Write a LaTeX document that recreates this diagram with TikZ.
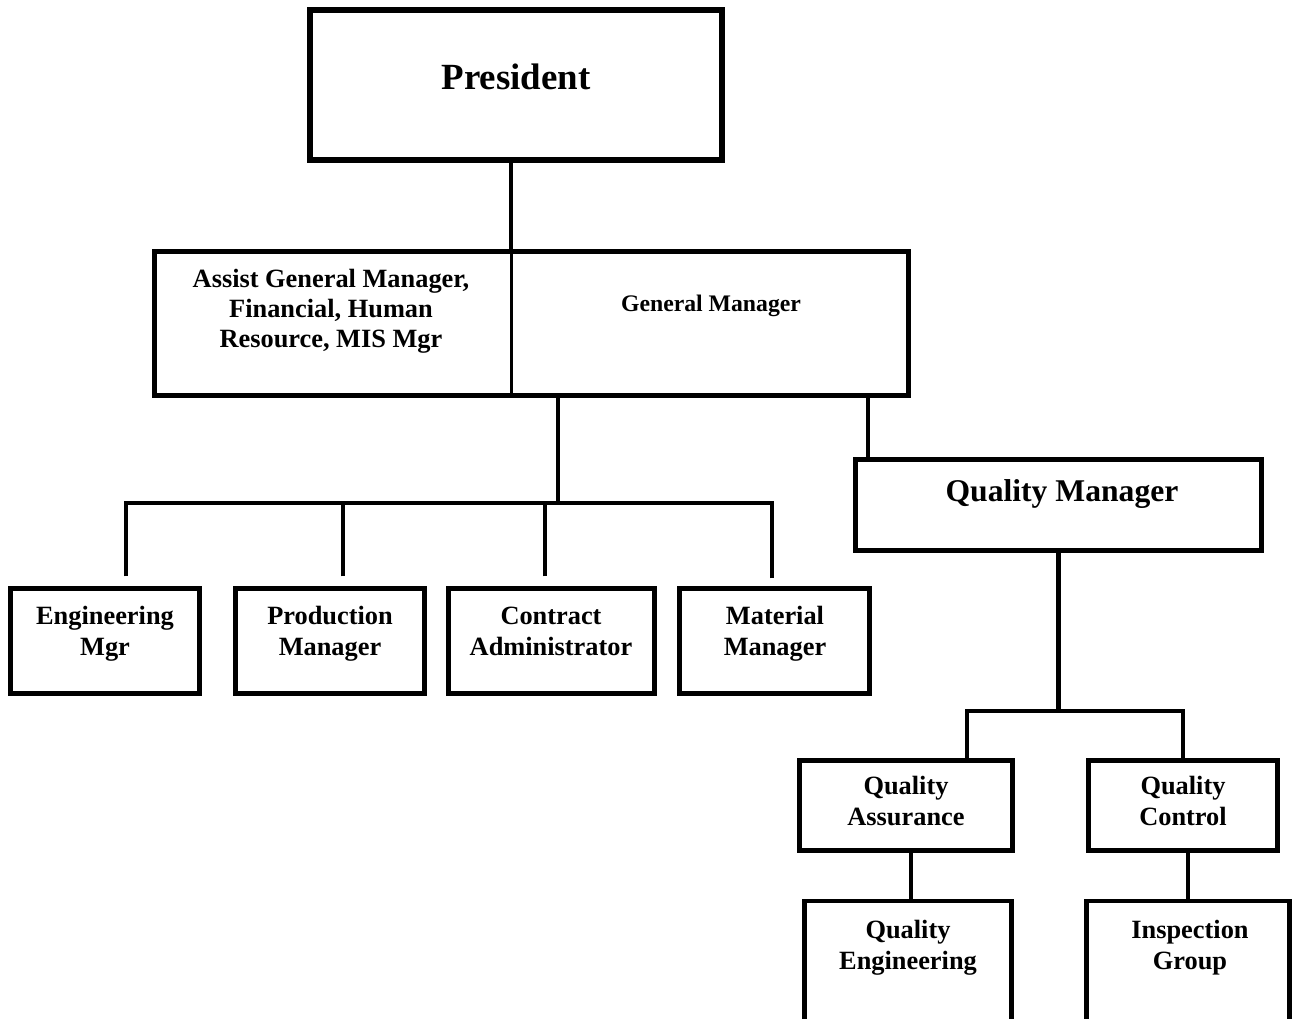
\documentclass[tikz,border=0pt]{standalone}
\usepackage{fontspec}
\setmainfont{Liberation Serif}
\tikzset{
  base/.style = {draw, line width=0.9mm, inner sep=0pt},
  boxsize/.style 2 args = {minimum width=#1*0.2mm, minimum height=#2*0.2mm},
}

\begin{document}
\begin{tikzpicture}[x=0.2mm, y=0.2mm,
            box/.style  = {base, rectangle},
            txt/.style  = {align=center, font=\bfseries\fontsize{15}{17.6}\selectfont},
            link/.style = {line width=0.9mm},
        ]
        \clip (0,0) rectangle (1308,-1019);

        % boxes
        \node[box, line width=1.2mm, boxsize={412}{150}] (pres) at (516,-85) {};
        \node[box, boxsize={754}{144}] (mgmt) at (531.5,-323.5) {};
        \node[box, boxsize={189}{105}] (eng)  at (105,-641) {};
        \node[box, boxsize={189}{105}] (prod) at (330,-641) {};
        \node[box, boxsize={206}{105}] (cont) at (551.5,-641) {};
        \node[box, boxsize={190}{105}] (mat)  at (774.5,-641) {};
        \node[box, boxsize={406}{91}]  (qm)   at (1058.5,-505) {};
        \node[box, boxsize={213}{90}]  (qa)   at (906,-805.5) {};
        \node[box, boxsize={189}{90}]  (qc)   at (1183,-805.5) {};
        \node[box, boxsize={207}{160}] (qe)   at (908,-981) {};
        \node[box, boxsize={203}{160}] (ig)   at (1188,-981) {};

        % texts
        \node[txt, font=\bfseries\fontsize{21}{25}\selectfont] (prestxt) at (516,-77) {President};
        \node[txt, font=\bfseries\fontsize{15}{17}\selectfont] (assttxt) at (331,-311)
            {Assist General Manager,\\Financial, Human\\Resource, MIS Mgr};
        \node[txt, font=\bfseries\fontsize{13.5}{16}\selectfont] (gmtxt) at (711,-306) {General Manager};
        \node[txt] (engtxt)  at (105,-634) {Engineering\\Mgr};
        \node[txt] (prodtxt) at (330,-634) {Production\\Manager};
        \node[txt] (conttxt) at (551,-631) {Contract\\Administrator};
        \node[txt] (mattxt)  at (775,-634) {Material\\Manager};
        \node[txt, font=\bfseries\fontsize{18}{21}\selectfont] (qmtxt) at (1062,-494) {Quality Manager};
        \node[txt] (qatxt) at (906,-801)  {Quality\\Assurance};
        \node[txt] (qctxt) at (1183,-801) {Quality\\Control};
        \node[txt] (qetxt) at (908,-948)  {Quality\\Engineering};
        \node[txt] (igtxt) at (1190,-948) {Inspection\\Group};

        % links
        \coordinate (split) at (511,-249);
        \coordinate (hub)   at (558,-503);
        \coordinate (qhub)  at (1058.5,-711);

        \draw[link] (split |- pres.south) -- (split);
        \draw[line width=0.6mm] (split) -- (split |- mgmt.south);
        \draw[link] (mgmt.south -| hub) -- (hub);
        \draw[link] ([shift={(21,10)}]eng.north)    |- (hub);
        \draw[link] ([shift={(13,10)}]prod.north)   |- (hub);
        \draw[link] ([shift={(-6.5,10)}]cont.north) |- (hub);
        \draw[link] ([shift={(-2.5,8)}]mat.north)   |- (hub);
        \draw[link] ([xshift=2.9mm]qm.north west) -- ([xshift=2.9mm]qm.north west |- mgmt.south);
        \draw[link] (qm.south) -- (qhub);
        \draw[link] ([xshift=12.2mm]qa.north) |- (qhub);
        \draw[link] (qc.north) |- (qhub);
        \draw[link] ([xshift=1mm]qa.south) -- ([xshift=1mm]qa.south |- qe.north);
        \draw[link] (ig.north |- qc.south) -- (ig.north);

        \end{tikzpicture}
\end{document}
